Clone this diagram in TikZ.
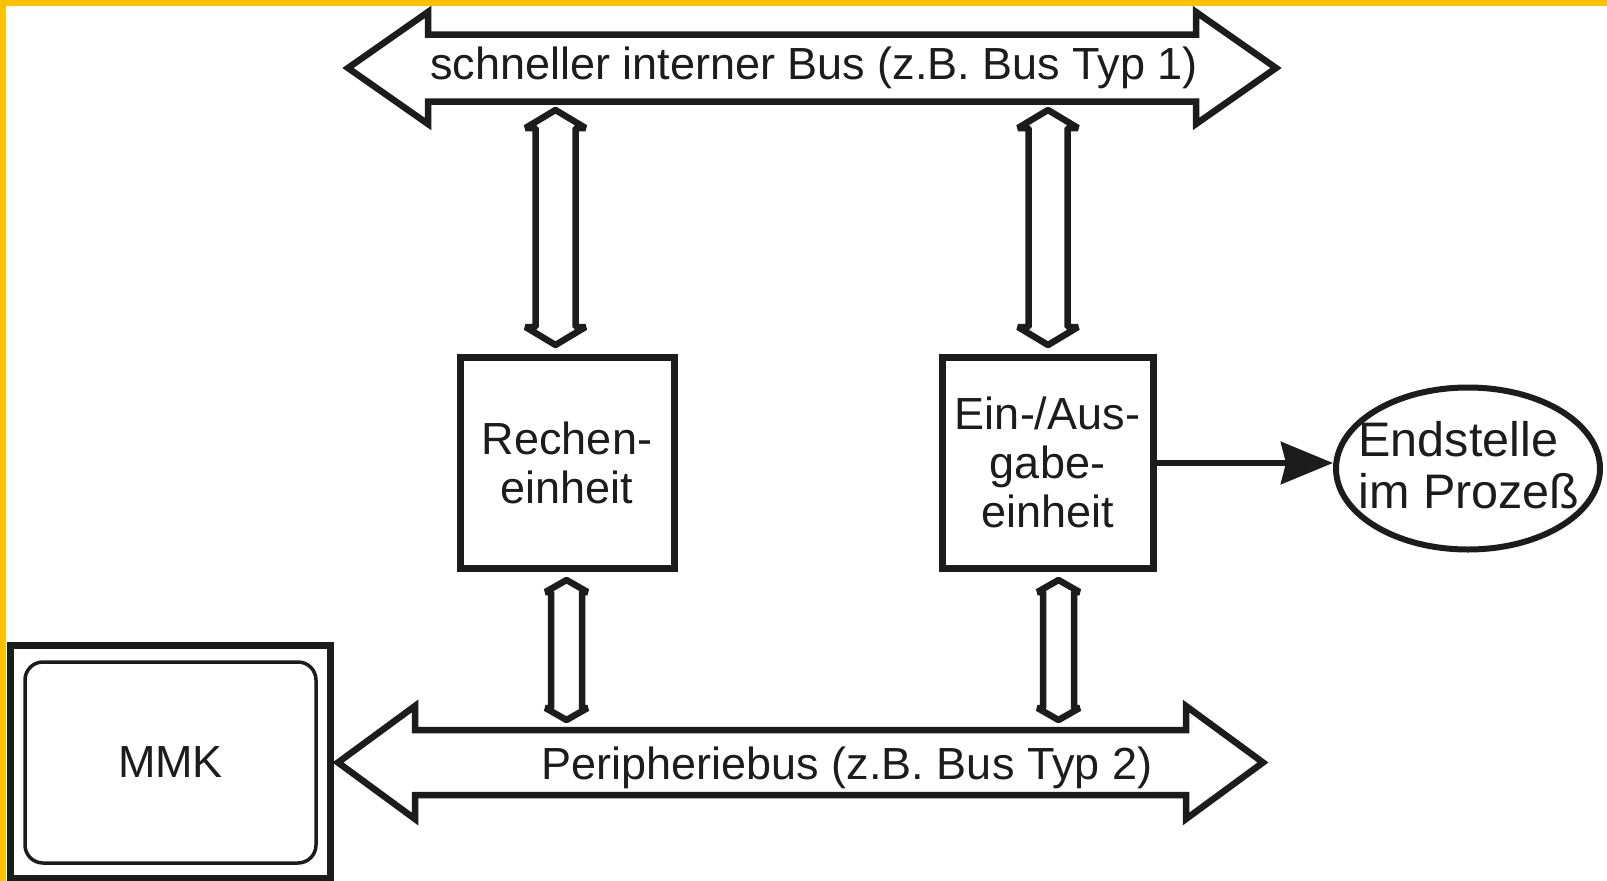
\documentclass[tikz,border=0pt]{standalone}
\usepackage{fontspec}
\setmainfont{Liberation Sans}
\newfontfamily\labfam{Liberation Sans}
\usetikzlibrary{arrows.meta,shapes.geometric}
\definecolor{ink}{HTML}{1C1C1C}
\definecolor{framecol}{HTML}{FFC000}
\newcommand\labfont{\labfam\fontsize{45}{49}\selectfont}
\newcommand\epfont{\labfam\fontsize{48.5}{52}\selectfont}
% vertical double arrow: cx, ytop, ybot, half shaft, half head, head length
\newcommand\vdarrow[6]{%
  \draw[vout] (#1-#4,#2+#6) -- (#1-#5,#2+#6) -- (#1,#2) -- (#1+#5,#2+#6) -- (#1+#4,#2+#6)
    -- (#1+#4,#3-#6) -- (#1+#5,#3-#6) -- (#1,#3) -- (#1-#5,#3-#6) -- (#1-#4,#3-#6) -- cycle;}
% horizontal double arrow: cy, xleft tip, xright tip, half shaft, half head, head length
\newcommand\hdarrow[6]{%
  \draw[hout] (#2,#1) -- (#2+#6,#1-#5) -- (#2+#6,#1-#4) -- (#3-#6,#1-#4) -- (#3-#6,#1-#5) -- (#3,#1)
    -- (#3-#6,#1+#5) -- (#3-#6,#1+#4) -- (#2+#6,#1+#4) -- (#2+#6,#1+#5) -- cycle;}
\begin{document}
\begin{tikzpicture}[x=1pt,y=-1pt,
  hout/.style={draw=ink,line width=6.5pt,line join=miter,fill=white},
  vout/.style={draw=ink,line width=6.5pt,line join=bevel,fill=white},
  unitbox/.style={draw=ink,line width=7pt,minimum height=211pt,inner sep=0pt,font=\labfont,align=center,text=ink},
  lbl/.style={font=\labfont,text=ink,inner sep=0pt},
  endst/.style={ellipse,draw=ink,line width=6pt,minimum width=264pt,minimum height=162pt,inner sep=0pt,font=\epfont,text=ink},
  conn/.style={draw=ink,line width=6.5pt,-{Stealth[length=52pt,width=42pt,inset=5pt]}}]
\useasboundingbox (0,0) rectangle (1607,881);
\fill[white] (0,0) rectangle (1607,881);
% frame strips
\fill[framecol] (0,0) rectangle (1607,6);
\fill[framecol] (0,0) rectangle (6,881);
% buses
\hdarrow{68}{348}{1276}{33.5}{56}{80}
\node[lbl,anchor=base] (bus1) at (814,79) {schneller interner Bus (z.B. Bus Typ 1)};
\hdarrow{762.5}{338}{1263}{32.5}{56.5}{77}
\node[lbl,anchor=base] (bus2) at (847,779.5) {Peripheriebus (z.B. Bus Typ 2)};
% units
\node[unitbox,minimum width=214pt] (rech) at (567,462.5) {Rechen-\\einheit};
\node[unitbox,minimum width=211pt] (eaus) at (1047.5,462.5) {Ein-/Aus-\\gabe-\\einheit};
% vertical connectors
\vdarrow{555.5}{110}{345}{20}{30}{18}
\vdarrow{1048}{110}{345}{19.5}{30}{18}
\vdarrow{566.5}{580}{720}{15.5}{21}{12}
\vdarrow{1058.5}{580}{720}{15.5}{21}{12}
% end point
\node[endst] (endp) at (1468,468.5) {\makebox[0pt]{\hspace*{2pt}\raisebox{-39.5pt}[0pt][0pt]{\begin{tabular}[b]{@{}l@{}}Endstelle\\im Prozeß\end{tabular}}}};
\draw[conn] (eaus.east |- 0,463) -- (endp.west |- 0,463);
% MMK
\draw[ink,line width=7pt] (10.5,645) rectangle (330.5,878);
\node[draw=ink,line width=3.5pt,rounded corners=18pt,minimum width=291pt,minimum height=201pt,inner sep=0pt,lbl] (mmk) at (170.5,762.5) {MMK};
\end{tikzpicture}
\end{document}
